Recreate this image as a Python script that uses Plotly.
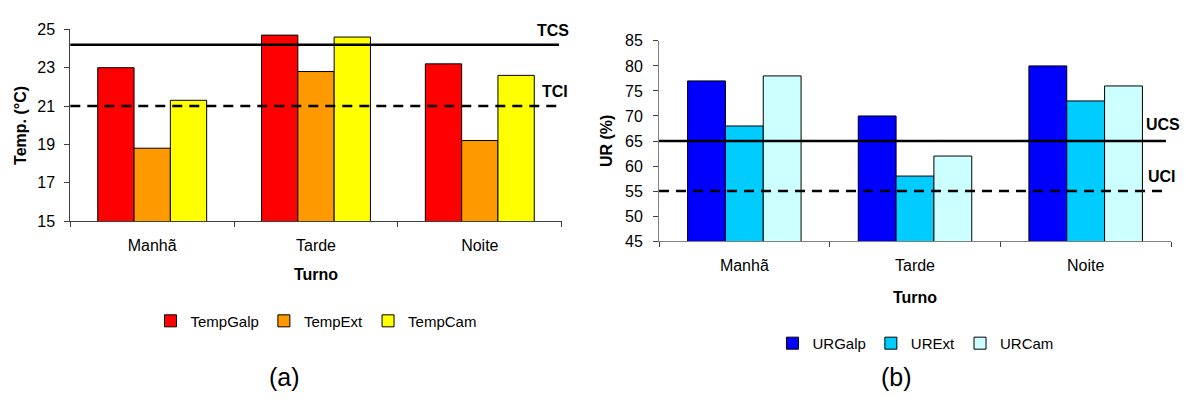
import plotly.graph_objects as go

# ---- data ----
turnos = ["Manhã", "Tarde", "Noite"]
temp_galp = [23.0, 24.7, 23.2]
temp_ext = [18.8, 22.8, 19.2]
temp_cam = [21.3, 24.6, 22.6]
tcs = 24.2
tci = 21.0

ur_galp = [77, 70, 80]
ur_ext = [68, 58, 73]
ur_cam = [78, 62, 76]
ucs = 65
uci = 55

W, H = 1186, 408
FONT = "Arial, Liberation Sans, sans-serif"

def px_x(p):
    return p / W

def px_y(p):
    return 1 - p / H

fig = go.Figure()

left = [("TempGalp", temp_galp, "#FF0000"),
        ("TempExt", temp_ext, "#FF9900"),
        ("TempCam", temp_cam, "#FFFF00")]
right = [("URGalp", ur_galp, "#0000FF"),
         ("URExt", ur_ext, "#00CCFF"),
         ("URCam", ur_cam, "#CCFFFF")]

for name, vals, col in left:
    fig.add_trace(go.Bar(x=turnos, y=vals, name=name, xaxis="x", yaxis="y",
                         marker=dict(color=col, line=dict(color="#000000", width=1)),
                         legend="legend"))
for name, vals, col in right:
    fig.add_trace(go.Bar(x=turnos, y=vals, name=name, xaxis="x2", yaxis="y2",
                         marker=dict(color=col, line=dict(color="#000000", width=1)),
                         legend="legend2"))

axis_font = dict(family=FONT, size=16, color="#000000")

fig.update_layout(
    width=W, height=H,
    margin=dict(l=0, r=0, t=0, b=0),
    paper_bgcolor="white", plot_bgcolor="white",
    barmode="group", bargap=0.335, bargroupgap=0,
    font=dict(family=FONT, size=16, color="#000000"),
    xaxis=dict(domain=[px_x(70.3), px_x(561.7)], anchor="y",
               showline=True, linecolor="#404040", linewidth=1,
               ticks="outside", tickson="boundaries", ticklen=5, tickcolor="#404040",
               ticklabelstandoff=10,
               tickfont=axis_font, showgrid=False),
    yaxis=dict(domain=[px_y(222.3), px_y(22.3)], anchor="x",
               range=[15, 25], dtick=2, tick0=15,
               showline=True, linecolor="#404040", linewidth=1,
               ticks="outside", ticklen=5, tickcolor="#404040",
               ticklabelstandoff=6,
               tickfont=axis_font, showgrid=False, zeroline=False),
    xaxis2=dict(domain=[px_x(659), px_x(1171)], anchor="y2",
                showline=True, linecolor="#808080", linewidth=1,
                ticks="outside", tickson="boundaries", ticklen=5, tickcolor="#404040",
                ticklabelstandoff=10,
                tickfont=axis_font, showgrid=False),
    yaxis2=dict(domain=[px_y(243.3), px_y(34.3)], anchor="x2",
                range=[45, 85], dtick=5, tick0=45,
                showline=True, linecolor="#808080", linewidth=1,
                ticks="outside", ticklen=5, tickcolor="#404040",
                ticklabelstandoff=7,
                tickfont=axis_font, showgrid=False, zeroline=False),
    legend=dict(orientation="h", x=px_x(316), y=px_y(326.7), xanchor="center", yanchor="middle",
                font=dict(family=FONT, size=15), itemwidth=30, bgcolor="rgba(0,0,0,0)",
                traceorder="normal"),
    legend2=dict(orientation="h", x=px_x(915.5), y=px_y(350), xanchor="center", yanchor="middle",
                 font=dict(family=FONT, size=15), itemwidth=30, bgcolor="rgba(0,0,0,0)",
                 traceorder="normal"),
)

# limit lines
def hline(xref, yref, val, x1, dash):
    fig.add_shape(type="line", xref=xref, yref=yref, x0=0, x1=x1, y0=val, y1=val,
                  line=dict(color="#000000", width=2.5, dash=dash), layer="above")

hline("x domain", "y", tcs, 0.9945, "solid")
hline("x domain", "y", tci, 1.0, "10px,7px")
hline("x2 domain", "y2", ucs, 0.99, "solid")
hline("x2 domain", "y2", uci, 0.99, "10px,7px")

bold = dict(family=FONT, size=16, color="#000000")
def lab(text, xref, yref, x, y, shift):
    fig.add_annotation(text="<b>%s</b>" % text, xref=xref, yref=yref, x=x, y=y,
                       yshift=shift, showarrow=False, font=bold,
                       xanchor="center", yanchor="middle")

lab("TCS", "x domain", "y", 0.983, tcs, 14)
lab("TCI", "x domain", "y", 0.986, tci, 15)
lab("UCS", "x2 domain", "y2", 0.985, ucs, 17)
lab("UCI", "x2 domain", "y2", 0.983, uci, 15)

# axis titles
fig.add_annotation(text="<b>Temp. (°C)</b>", xref="paper", yref="y domain", x=px_x(20.7), y=0.5,
                   textangle=-90, showarrow=False, font=bold, xanchor="center", yanchor="middle")
fig.add_annotation(text="<b>UR (%)</b>", xref="paper", yref="y2 domain", x=px_x(606), y=0.5,
                   textangle=-90, showarrow=False, font=bold, xanchor="center", yanchor="middle")
fig.add_annotation(text="<b>Turno</b>", xref="x domain", yref="paper", x=0.5, y=px_y(278),
                   showarrow=False, font=bold, xanchor="center", yanchor="middle")
fig.add_annotation(text="<b>Turno</b>", xref="x2 domain", yref="paper", x=0.5, y=px_y(301.7),
                   showarrow=False, font=bold, xanchor="center", yanchor="middle")

# panel labels
fig.add_annotation(text="(a)", xref="paper", yref="paper", x=px_x(284), y=px_y(385),
                   showarrow=False, font=dict(family=FONT, size=25, color="#000000"),
                   xanchor="center", yanchor="middle")
fig.add_annotation(text="(b)", xref="paper", yref="paper", x=px_x(896), y=px_y(385),
                   showarrow=False, font=dict(family=FONT, size=25, color="#000000"),
                   xanchor="center", yanchor="middle")

fig.write_html("out.html",
               config={"displayModeBar": False},
               post_script="document.body.style.margin='0px';document.body.style.overflow='hidden';")
